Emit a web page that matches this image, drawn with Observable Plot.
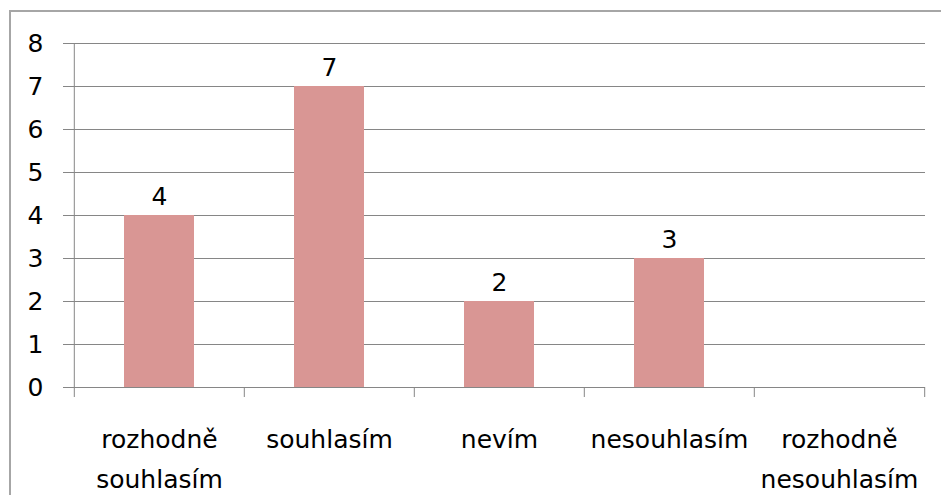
<!DOCTYPE html>
<html><head><meta charset="utf-8">
<script src="https://cdn.jsdelivr.net/npm/d3@7"></script>
<script src="https://cdn.jsdelivr.net/npm/@observablehq/plot@0.6"></script>
<style>
body{margin:0;background:#fff}
#wrap{position:relative;width:941px;height:495px;overflow:hidden;background:#fff}
#wrap svg{position:absolute;left:0;top:0}
#border{position:absolute;left:9px;top:10px;width:1000px;height:1000px;border-left:2px solid #a6a6a6;border-top:2px solid #a6a6a6;pointer-events:none}
</style></head><body><div id="wrap"></div>
<script>
const categories = ["rozhodně\nsouhlasím", "souhlasím", "nevím", "nesouhlasím", "rozhodně\nnesouhlasím"];
const values = [4, 7, 2, 3, 0];
const yTicks = [0, 1, 2, 3, 4, 5, 6, 7, 8];

const data = categories.map((c, i) => ({category: c, value: values[i]}));

const W = 941, H = 495, mt = 43, mr = 16, mb = 108, ml = 73;
const step = (W - ml - mr) / categories.length;
const plotH = H - mt - mb;
const gray = "#868686";

const chart = Plot.plot({
  width: W, height: H,
  marginTop: mt, marginRight: mr, marginBottom: mb, marginLeft: ml,
  style: {fontFamily: "DejaVu Sans", fontSize: "25px", color: "black", background: "none", overflow: "visible"},
  x: {domain: categories, paddingInner: 0.59, paddingOuter: 0.295, label: null},
  y: {domain: [0, 8], label: null},
  marks: [
    Plot.gridY(yTicks, {stroke: gray, strokeOpacity: 1, strokeWidth: 1}),
    Plot.barY(data, {x: "category", y: "value", fill: "#D99694"}),
    Plot.ruleY([0], {stroke: gray, strokeWidth: 1}),
    // y axis line (left edge of first band), extending below into the first category tick
    Plot.ruleX([categories[0]], {x: d => d, dx: -step / 2, stroke: gray, strokeWidth: 1, insetBottom: -10}),
    // category boundary ticks below the axis
    Plot.ruleX(categories.slice(1), {x: d => d, dx: -step / 2, stroke: gray, strokeWidth: 1, insetTop: plotH, insetBottom: -10}),
    Plot.ruleX([categories[categories.length - 1]], {x: d => d, dx: step / 2, stroke: gray, strokeWidth: 1, insetTop: plotH, insetBottom: -10}),
    Plot.axisY(yTicks, {tickSize: 10, tickPadding: 20, stroke: gray, fill: "black", fontSize: 25, label: null, tickFormat: d => d}),
    Plot.axisX({tickSize: 0, tickPadding: 32, fontSize: 25, lineHeight: 1.6, fill: "black", label: null, tickFormat: d => d}),
    Plot.text(data.filter(d => d.value > 0), {x: "category", y: "value", text: d => String(d.value), lineAnchor: "bottom", dy: -11, fontSize: 25, fill: "black"})
  ]
});
const wrap = document.getElementById("wrap");
wrap.appendChild(chart);
const b = document.createElement("div"); b.id = "border"; wrap.appendChild(b);
</script>
</body></html>
